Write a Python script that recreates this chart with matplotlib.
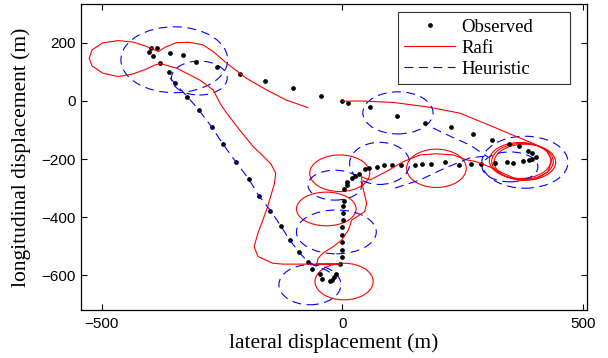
import numpy as np
import matplotlib
matplotlib.use("Agg")
import matplotlib.pyplot as plt
from matplotlib.patches import Ellipse

# observed positions (m)
obs_x = [-398, -401, -393, -384, -378, -360, -347, -323, -298, -271, -248, -221,
         -193, -173, -149, -127, -108, -90, -72, -62, -47, -41, -26, -22, -17, -12,
         -5, 0, -1, -1, -1, 0, 1, 2, 2, 3, 4, 10, 11, 20, 27, 35, 47, 56, 72, 87,
         103, 123, 151, 167, 185, 214, 243, 267, 289, 318, 342, 356, 376, 389, 395,
         404, 394, 386, 367, 346, 312, 272, 226, 173, 114, 57, 12, 0, -44, -103,
         -161, -213, -261, -303, -331, -357]
obs_y = [184, 170, 155, 181, 132, 99, 61, 15, -30, -89, -148, -210, -270, -327,
         -380, -432, -480, -520, -553, -579, -597, -612, -620, -616, -608, -596,
         -560, -539, -512, -486, -461, -435, -409, -387, -363, -343, -304, -289,
         -278, -266, -257, -251, -235, -232, -228, -222, -221, -220, -219, -218,
         -217, -211, -222, -216, -218, -214, -211, -212, -208, -204, -199, -192,
         -179, -172, -155, -147, -134, -113, -91, -75, -51, -22, -7, -1, 16, 45,
         68, 94, 118, 135, 157, 166]

# Rafi track (m)
rafi_x = [2, 37, 106, 176, 245, 314, 363, 397, 424, 436, 428, 403, 369, 335,
          314, 279, 259, 231, 196, 162, 127, 92, 58, 40, 44, 51, 47, 37, 20, 13,
          -1, -19, -40, -50, -53, -5, -123, -144, -175, -183, -175, -157, -141,
          -138, -148, -165, -185, -213, -240, -254, -268, -296, -317, -344, -379,
          -389, -410, -435, -466, -498, -520, -526, -520, -498, -466, -435, -407,
          -382, -367, -344, -317, -289, -268, -240, -199, -157, -116, -71]
rafi_y = [-1, 0, -5, -20, -42, -89, -123, -146, -169, -203, -244, -269, -274,
          -249, -232, -209, -203, -186, -182, -186, -209, -243, -272, -261, -306,
          -352, -381, -392, -410, -444, -479, -502, -524, -542, -562, -562, -562,
          -559, -536, -502, -455, -375, -286, -249, -217, -189, -157, -100, -42,
          -8, 38, 72, 90, 113, 129, 124, 108, 93, 84, 96, 121, 147, 176, 200, 208,
          203, 188, 170, 186, 201, 202, 193, 170, 130, 78, 38, 3, -23]
# Rafi uncertainty ellipses: centre, width, height (m)
rafi_ex = [-5, -33, 4, 196, 370, 375, 380]
rafi_ey = [-249, -372, -622, -232, -205, -208, -211]
rafi_ew = [125, 124, 121, 124, 128, 128, 128]
rafi_eh = [126, 116, 126, 132, 124, 124, 124]

# Heuristic track segments (m)
heur_segs = [
    ([-358, -323, -298, -271, -248, -221, -194, -173, -148, -127, -109, -90,
      -73, -55, -34, -17],
     [79, 17, -31, -90, -148, -210, -269, -327, -380, -432, -479, -520, -551,
      -568, -582, -599]),
    ([110, 162, 214, 266, 303], [-300, -272, -231, -196, -189]),
    ([189, 224, 266, 303], [-93, -121, -152, -193]),
]
heur_ex = [-349, -297, 116, 380, 349, 78, -15, -12, -67]
heur_ey = [142, 79, -41, -211, -227, -215, -290, -451, -633]
heur_ew = [222, 116, 146, 179, 116, 125, 112, 166, 129]
heur_eh = [227, 117, 145, 179, 103, 145, 103, 151, 138]

fig = plt.figure(figsize=(6.08, 3.58), dpi=100)
ax = fig.add_axes([0.1332, 0.1341, 0.8322, 0.8547])

ax.plot(obs_x, obs_y, 'o', color='black', markersize=2.4, linestyle='none',
        label='Observed')
ax.plot(rafi_x, rafi_y, '-', color='red', linewidth=0.8, label='Rafi')
for cx, cy, w, h in zip(rafi_ex, rafi_ey, rafi_ew, rafi_eh):
    ax.add_patch(Ellipse((cx, cy), w, h, fill=False, edgecolor='red',
                         linewidth=0.8))

dash = (0, (8, 5))
for i, (sx, sy) in enumerate(heur_segs):
    ax.plot(sx, sy, color='blue', linewidth=0.8, linestyle=dash,
            label='Heuristic' if i == 0 else None)
for cx, cy, w, h in zip(heur_ex, heur_ey, heur_ew, heur_eh):
    ax.add_patch(Ellipse((cx, cy), w, h, fill=False, edgecolor='blue',
                         linewidth=0.8, linestyle=dash))

ax.set_xlim(-543, 509)
ax.set_ylim(-720, 334)
ax.set_xticks([-500, 0, 500])
ax.set_yticks([-600, -400, -200, 0, 200])
ax.tick_params(direction='in', top=True, right=True, length=4, width=0.8,
               labelsize=11)
ax.tick_params(axis='x', pad=5)
for lab in ax.get_xticklabels() + ax.get_yticklabels():
    lab.set_family('Liberation Sans')
for sp in ax.spines.values():
    sp.set_linewidth(0.9)

ax.set_xlabel('lateral displacement (m)', family='Liberation Serif',
              fontsize=15.5, labelpad=2)
ax.set_ylabel('longitudinal displacement (m)', family='Liberation Serif',
              fontsize=15.5, labelpad=8)

# legend box stretched to a fixed width
leg = ax.legend(loc='upper left', bbox_to_anchor=(0.626, 0.732, 0.3405, 0.241),
                mode='expand', borderaxespad=0, fancybox=False, numpoints=1,
                prop={'family': 'Liberation Serif', 'size': 13.5},
                handlelength=2.7, labelspacing=0.2, borderpad=0.35,
                handletextpad=0.35)
leg.get_frame().set_edgecolor('black')
leg.get_frame().set_linewidth(0.8)

fig.savefig('out.png', dpi=100)
